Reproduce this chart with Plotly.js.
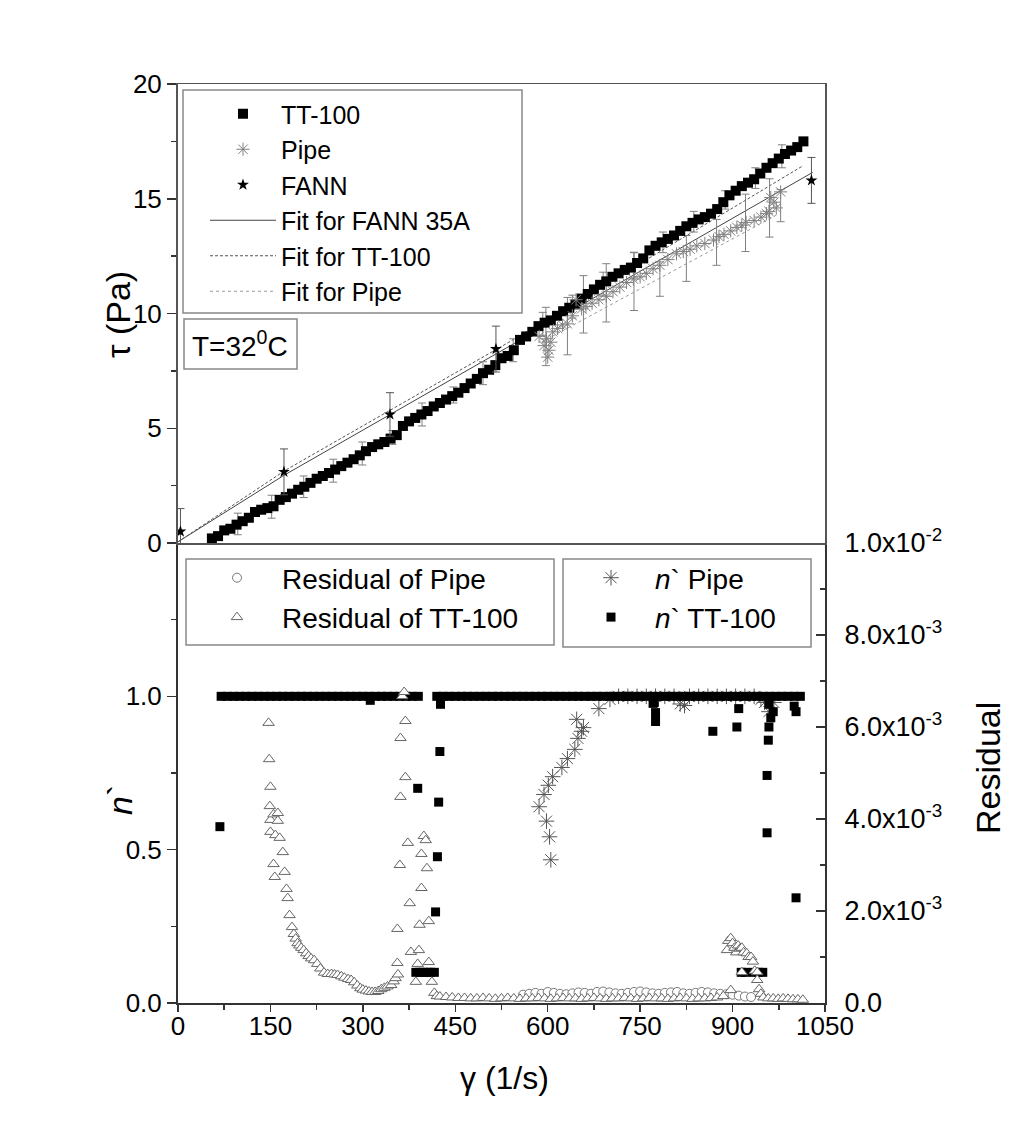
<!DOCTYPE html>
<html><head><meta charset="utf-8">
<script src="https://cdn.plot.ly/plotly-3.0.1.min.js"></script>
<style>html,body{margin:0;padding:0;background:#fff;}#chart{width:1034px;height:1125px;}</style>
</head><body><div id="chart"></div>
<script>
// ---------- top panel data ----------
const ttX = [55,65,75,85,95,105,115,125,135,145,155,165,175,185,195,205,215,225,235,245,255,265,275,285,295,305,315,325,335,345,355,365,375,385,395,405,415,425,435,445,455,465,475,485,495,505,515,525,535,545,555,565,575,585,595,605,615,625,635,645,655,665,675,685,695,705,715,725,735,745,755,765,775,785,795,805,815,825,835,845,855,865,875,885,895,905,915,925,935,945,955,965,975,985,995,1005,1015];
const ttTau = [0.20,0.30,0.55,0.62,0.80,0.95,1.10,1.35,1.45,1.52,1.60,1.88,2.00,2.15,2.32,2.45,2.62,2.80,2.92,3.05,3.20,3.35,3.50,3.65,3.82,4.00,4.18,4.30,4.40,4.55,4.70,5.10,5.30,5.45,5.60,5.75,5.95,6.10,6.25,6.40,6.55,6.75,6.95,7.15,7.40,7.55,7.75,8.05,8.15,8.40,8.85,9.00,9.20,9.45,9.60,9.70,9.90,10.10,10.25,10.40,10.65,10.85,11.05,11.25,11.40,11.60,11.75,11.90,12.00,12.20,12.40,12.75,12.95,13.10,13.25,13.40,13.60,13.80,13.95,14.10,14.20,14.35,14.55,14.85,15.15,15.35,15.55,15.70,15.85,16.10,16.35,16.55,16.75,16.95,17.10,17.25,17.50];
const ttErrX = [97,152,204,252,299,348,396,447,495,544,592,640,690,740,787,837,888,937,980];
const ttErrTau = [0.83,1.58,2.45,3.15,3.90,4.60,5.60,6.45,7.40,8.40,9.55,10.30,11.30,12.10,13.10,14.00,14.95,15.90,16.85];
const ttErr = [0.47,0.50,0.47,0.50,0.50,0.30,0.50,0.35,0.50,0.50,0.50,0.50,0.50,0.55,0.45,0.45,0.40,0.45,0.50];

const pipeX = [586,594,598,600,602,605,608,616,624,632,640,646,655,662,672,683,695,706,717,728,739,750,760,771,782,795,809,820,831,842,855,869,878,886,897,907,915,922,935,946,955,959,962,967,971,978];
const pipeTau = [9.0,8.6,8.9,8.1,8.4,8.75,9.2,9.35,9.5,9.55,9.9,10.6,10.2,10.3,10.45,10.6,10.75,10.95,11.15,11.35,11.5,11.6,11.75,11.95,12.1,12.35,12.6,12.7,12.8,12.95,13.05,13.2,13.35,13.45,13.6,13.75,13.85,13.97,14.05,14.2,14.35,14.45,15.05,14.85,14.6,15.3];
const pipeErrX = [597,632,658,695,740,782,825,874,921,960,978];
const pipeErrTau = [9.0,9.45,10.4,10.9,11.4,11.5,12.4,13.1,13.95,14.6,14.7];
const pipeErr = [1.27,1.25,1.25,1.27,1.27,0.75,1.0,1.0,1.25,1.27,0.7];

const fannX = [4,172,344,516,1028];
const fannTau = [0.5,3.1,5.6,8.45,15.8];
const fannErr = [1.0,1.0,0.95,1.0,1.0];

const fitFannX = [0,172,533,1030];
const fitFannY = [0.05,2.95,8.5,16.15];
const fitTtX = [0,173,537,1012];
const fitTtY = [0.05,3.15,8.75,16.4];
const fitPipeX = [590,972];
const fitPipeY = [8.75,14.3];

// ---------- bottom panel data ----------
const nTtX = [68,70,80,90,100,110,120,130,140,150,160,170,180,190,200,210,220,230,240,250,260,270,280,290,300,310,320,330,340,350,360,370,380,390,312,386,392,398,404,410,416,389,418,421,423,425,426,420,430,440,450,460,470,480,490,500,510,520,530,540,550,560,570,580,590,600,610,620,630,640,650,660,670,680,690,700,710,720,730,740,750,760,770,780,790,800,810,820,830,840,850,860,870,880,890,900,910,920,930,940,950,960,970,980,990,1000,1010,727,771,773,775,775,868,910,959,966,962,959,958,956,956,1003,1000,1003,907,914,921,935,942,949];
const nTtN = [0.575,1,1,1,1,1,1,1,1,1,1,1,1,1,1,1,1,1,1,1,1,1,1,1,1,1,1,1,1,1,1,1,1,1,0.987,0.1,0.1,0.1,0.1,0.1,0.1,0.70,0.297,0.477,0.655,0.82,0.974,1,1,1,1,1,1,1,1,1,1,1,1,1,1,1,1,1,1,1,1,1,1,1,1,1,1,1,1,1,1,1,1,1,1,1,1,1,1,1,1,1,1,1,1,1,1,1,1,1,1,1,1,1,1,1,1,1,1,1,1,1,0.977,0.98,0.947,0.918,0.886,0.96,0.974,0.95,0.93,0.9,0.857,0.742,0.555,0.343,0.968,0.95,0.9,0.1,0.1,0.1,0.1,0.1,0.1];

const nPipeX = [586,594,598,601,603,605,608,623,632,644,647,649,655,658,683,701,715,730,745,760,775,790,805,815,822,830,845,860,875,890,905,920,935,946,952,959,967];
const nPipeN = [0.64,0.68,0.593,0.71,0.542,0.467,0.738,0.768,0.797,0.827,0.925,0.863,0.886,0.898,0.96,0.99,1.0,1.0,1.0,1.0,1.0,1.0,1.0,0.975,0.97,1.0,1.0,1.0,1.0,1.0,1.0,1.0,1.0,0.99,0.98,0.95,0.98];

const resPipeX = [560,570,580,590,600,610,620,630,640,650,660,670,680,690,700,710,720,730,740,750,760,770,780,790,800,810,820,830,840,850,860,870,880,890,900,910,920,930];
const resPipeY = [0.00018,0.0002,0.00022,0.0002,0.00024,0.00022,0.0002,0.00019,0.00021,0.00023,0.00022,0.0002,0.00024,0.00025,0.00023,0.00021,0.0002,0.00022,0.00024,0.00025,0.00023,0.00021,0.0002,0.00022,0.00023,0.00024,0.00021,0.0002,0.00022,0.00024,0.00023,0.00021,0.0002,0.00019,0.00018,0.00016,0.00014,0.00013];

const resTtX = [147,148,149,150,150,150,155,155,157,158,162,162,165,170,173,176,178,181,185,188,191,194,197,200,204,208,212,216,221,226,231,237,243,249,254,259,265,270,276,281,286,291,296,300,305,310,315,320,325,330,335,340,346,350,353,356,356,357,360,361,361,364,367,369,369,373,376,378,386,389,391,392,395,395,399,402,404,407,407,412,416,420,425,435,445,455,465,475,485,495,505,515,525,535,545,555,565,575,585,595,605,615,625,635,645,655,665,675,685,695,705,715,725,735,745,755,765,775,785,795,805,815,825,835,845,855,865,875,885,891,893,897,897,900,903,906,909,912,915,915,918,923,926,930,933,936,940,940,943,946,950,958,966,974,982,990,998,1006,1014];
const resTtY = [0.00609,0.0053,0.00428,0.0047,0.00398,0.00372,0.0041,0.00302,0.00274,0.00365,0.00413,0.00396,0.00359,0.00328,0.00285,0.00248,0.00228,0.00191,0.00165,0.0015,0.0014,0.0013,0.00125,0.0012,0.00115,0.00108,0.00102,0.00097,0.00093,0.00085,0.00075,0.00066,0.00063,0.00063,0.00062,0.00061,0.00058,0.00055,0.00052,0.0005,0.00045,0.00038,0.00032,0.00029,0.00027,0.00025,0.00024,0.00024,0.00026,0.0003,0.00033,0.00036,0.00039,0.00047,0.00054,0.00087,0.00161,0.00062,0.003,0.00576,0.00448,0.00667,0.00676,0.00613,0.00491,0.00348,0.00217,0.00111,0.00046,0.00085,0.00115,0.0017,0.00324,0.0025,0.00363,0.00354,0.00293,0.00178,0.00089,0.00046,0.00022,0.00015,0.00014,0.00013,0.00012,0.00011,0.00011,0.0001,0.0001,0.00011,0.0001,0.00009,0.0001,0.00011,0.0001,0.00009,0.0001,0.0001,0.00011,0.0001,0.00009,0.0001,0.00011,0.0001,0.0001,0.00009,0.0001,0.00011,0.0001,0.00009,0.0001,0.0001,0.00011,0.0001,0.00009,0.0001,0.00011,0.0001,0.0001,0.00009,0.0001,0.00011,0.0001,0.00009,0.0001,0.0001,0.00011,0.00012,0.00015,0.00115,0.00135,0.00141,0.00028,0.0013,0.0012,0.0011,0.00125,0.00118,0.0012,0.00067,0.0011,0.00108,0.001,0.001,0.0009,0.0007,0.0005,0.00067,0.0003,0.0002,0.00012,0.0001,0.0001,0.00009,0.0001,0.00009,0.00008,0.00008,0.00007];

// ---------- tick labels ----------
const xTickVals = [0,150,300,450,600,750,900,1050];
const xTickText = ['0','150','300','450','600','750','900','1050'];
const tauTickVals = [0,5,10,15,20];
const tauTickText = ['0','5','10','15','20'];
const nTickVals = [0,0.5,1.0];
const nTickText = ['0.0','0.5','1.0'];
const resTickVals = [0,0.002,0.004,0.006,0.008,0.01];
const resTickText = ['0.0','2.0x10<sup>-3</sup>','4.0x10<sup>-3</sup>','6.0x10<sup>-3</sup>','8.0x10<sup>-3</sup>','1.0x10<sup>-2</sup>'];

// ---------- geometry helpers (pixel -> paper) ----------
const L = 178, R = 825, T = 84, B = 1003;
const W = R - L, H = B - T;
const px = v => (v - L) / W;
const py = v => (B - v) / H;
const split = py(543);

const inv = {size: 2, color: 'rgba(0,0,0,0)'};
const traces = [
  {x: fitFannX, y: fitFannY, xaxis: 'x2', yaxis: 'y', mode: 'lines', name: 'Fit for FANN 35A', legend: 'legend', legendrank: 4,
   line: {color: '#444', width: 1}},
  {x: fitTtX, y: fitTtY, xaxis: 'x2', yaxis: 'y', mode: 'lines', name: 'Fit for TT-100', legend: 'legend', legendrank: 5,
   line: {color: '#555', width: 1, dash: '3px,2px'}},
  {x: fitPipeX, y: fitPipeY, xaxis: 'x2', yaxis: 'y', mode: 'lines', name: 'Fit for Pipe', legend: 'legend', legendrank: 6,
   line: {color: '#999', width: 1, dash: 'dot'}},
  {x: ttErrX, y: ttErrTau, xaxis: 'x2', yaxis: 'y', mode: 'markers', marker: inv, showlegend: false,
   error_y: {type: 'data', array: ttErr, visible: true, color: '#808080', thickness: 1, width: 4}},
  {x: pipeErrX, y: pipeErrTau, xaxis: 'x2', yaxis: 'y', mode: 'markers', marker: inv, showlegend: false,
   error_y: {type: 'data', array: pipeErr, visible: true, color: '#808080', thickness: 1, width: 4}},
  {x: ttX, y: ttTau, xaxis: 'x2', yaxis: 'y', mode: 'markers', name: 'TT-100', legend: 'legend', legendrank: 1,
   marker: {symbol: 'square', size: 10, color: '#000'}},
  {x: pipeX, y: pipeTau, xaxis: 'x2', yaxis: 'y', mode: 'markers', name: 'Pipe', legend: 'legend', legendrank: 2,
   marker: {symbol: 'asterisk-open', size: 11, color: '#808080', line: {color: '#808080', width: 1}}},
  {x: fannX, y: fannTau, xaxis: 'x2', yaxis: 'y', mode: 'markers', name: 'FANN', legend: 'legend', legendrank: 3,
   marker: {symbol: 'star', size: 9, color: '#000'},
   error_y: {type: 'data', array: fannErr, visible: true, color: '#555', thickness: 1, width: 4}},
  // bottom
  {x: nPipeX, y: nPipeN, xaxis: 'x', yaxis: 'y2', mode: 'markers', name: '<i>n</i>` Pipe', legend: 'legend3', legendrank: 1,
   marker: {symbol: 'asterisk-open', size: 13, color: '#555', line: {color: '#555', width: 1}}},
  {x: nTtX, y: nTtN, xaxis: 'x', yaxis: 'y2', mode: 'markers', name: '<i>n</i>` TT-100', legend: 'legend3', legendrank: 2,
   marker: {symbol: 'square', size: 9, color: '#000'}},
  {x: resPipeX, y: resPipeY, xaxis: 'x', yaxis: 'y3', mode: 'markers', name: 'Residual of Pipe', legend: 'legend2', legendrank: 1,
   marker: {symbol: 'circle', size: 9, color: '#fff', line: {color: '#777', width: 1}}},
  {x: resTtX, y: resTtY, xaxis: 'x', yaxis: 'y3', mode: 'markers', name: 'Residual of TT-100', legend: 'legend2', legendrank: 2,
   marker: {symbol: 'triangle-up', size: 10, color: '#fff', line: {color: '#666', width: 1}}}
];
traces.forEach(t => { t.type = 'scatter'; t.hoverinfo = 'skip'; });

const axLine = '#333';
const tickBase = {ticks: 'outside', ticklen: 9, tickwidth: 1.5, tickcolor: axLine, showline: true, linecolor: axLine,
  linewidth: 2, showgrid: false, zeroline: false, tickfont: {size: 26}};
const minorOut = d => ({tickmode: 'linear', tick0: 0, dtick: d, ticks: 'outside', ticklen: 5, tickwidth: 1.5, tickcolor: axLine, showgrid: false});

const layout = {
  width: 1034, height: 1125,
  margin: {l: L, r: 1034 - R, t: T, b: 1125 - B, pad: 0},
  paper_bgcolor: '#fff', plot_bgcolor: '#fff',
  font: {family: '"Liberation Sans", Arial, sans-serif', size: 26, color: '#000'},
  showlegend: true,
  xaxis: Object.assign({}, tickBase, {domain: [0, 1], anchor: 'y2', range: [0, 1050], tickmode: 'array',
    tickvals: xTickVals, ticktext: xTickText, ticklen: 7, ticklabelstandoff: -8, minor: minorOut(75)}),
  xaxis2: {domain: [0, 1], anchor: 'y', matches: 'x', showticklabels: false, ticks: '', showline: true, mirror: true,
    linecolor: '#555', linewidth: 1.5, showgrid: false, zeroline: false},
  yaxis: Object.assign({}, tickBase, {domain: [split, 1], anchor: 'x2', range: [0, 20], tickmode: 'array',
    tickvals: tauTickVals, ticktext: tauTickText, mirror: true, linecolor: '#555', minor: minorOut(2.5)}),
  yaxis2: Object.assign({}, tickBase, {domain: [0, split], anchor: 'x', range: [0, 1.5], tickmode: 'array',
    tickvals: nTickVals, ticktext: nTickText, minor: minorOut(0.25)}),
  yaxis3: Object.assign({}, tickBase, {overlaying: 'y2', side: 'right', anchor: 'x', range: [0, 0.01], tickmode: 'array',
    tickvals: resTickVals, ticktext: resTickText, ticks: 'inside', ticklabelstandoff: 12, tickfont: {size: 27},
    minor: {tickmode: 'linear', tick0: 0, dtick: 0.001, ticks: 'inside', ticklen: 5, tickwidth: 1.5, tickcolor: axLine, showgrid: false}}),
  legend: {x: px(205), y: py(91), xanchor: 'left', yanchor: 'top', bgcolor: 'rgba(0,0,0,0)', borderwidth: 0,
    font: {size: 25}, itemwidth: 66, traceorder: 'normal'},
  legend2: {x: px(192), y: py(553), xanchor: 'left', yanchor: 'top', bgcolor: 'rgba(0,0,0,0)', borderwidth: 0,
    font: {size: 28}, itemwidth: 80},
  legend3: {x: px(567), y: py(553), xanchor: 'left', yanchor: 'top', bgcolor: 'rgba(0,0,0,0)', borderwidth: 0,
    font: {size: 28}, itemwidth: 78},
  shapes: [
    {type: 'rect', xref: 'paper', yref: 'paper', x0: px(183), x1: px(522), y0: py(313), y1: py(90), line: {color: '#888', width: 1.5}},
    {type: 'rect', xref: 'paper', yref: 'paper', x0: px(184), x1: px(297), y0: py(369), y1: py(319), line: {color: '#888', width: 1.5}},
    {type: 'rect', xref: 'paper', yref: 'paper', x0: px(186), x1: px(554), y0: py(645), y1: py(559), line: {color: '#888', width: 1.5}},
    {type: 'rect', xref: 'paper', yref: 'paper', x0: px(563), x1: px(811), y0: py(647), y1: py(559), line: {color: '#888', width: 1.5}}
  ],
  annotations: [
    {text: 'T=32<sup>0</sup>C', xref: 'paper', yref: 'paper', x: px(240), y: py(344), xanchor: 'center', yanchor: 'middle', showarrow: false, font: {size: 28}},
    {text: 'τ (Pa)', xref: 'paper', yref: 'paper', x: px(118), y: py(315), xanchor: 'center', yanchor: 'middle', textangle: -90, showarrow: false, font: {size: 34}},
    {text: '<i>n</i>`', xref: 'paper', yref: 'paper', x: px(120), y: py(800), xanchor: 'center', yanchor: 'middle', textangle: -90, showarrow: false, font: {size: 34}},
    {text: 'Residual', xref: 'paper', yref: 'paper', x: px(988), y: py(768), xanchor: 'center', yanchor: 'middle', textangle: -90, showarrow: false, font: {size: 34}},
    {text: 'γ (1/s)', xref: 'paper', yref: 'paper', x: px(504), y: py(1078), xanchor: 'center', yanchor: 'middle', showarrow: false, font: {size: 32}}
  ]
};

Plotly.newPlot('chart', traces, layout, {staticPlot: true, displayModeBar: false});
</script></body></html>
